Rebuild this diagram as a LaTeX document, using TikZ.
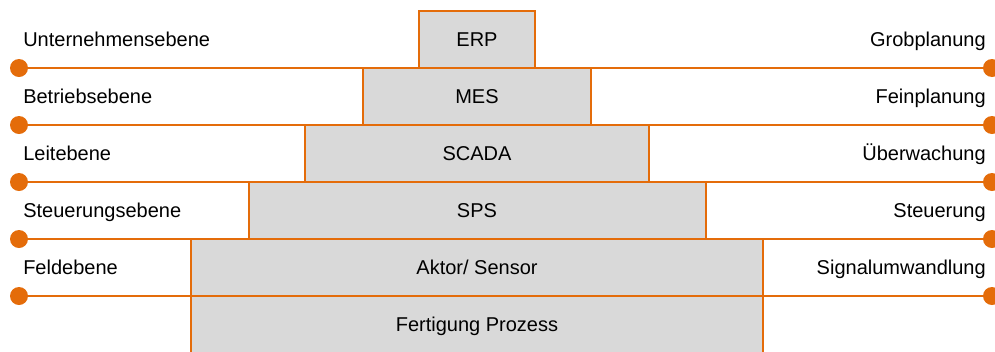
\documentclass[tikz,border=0pt]{standalone}
\usepackage{fontspec}
\setmainfont{Liberation Sans}
\usepackage{tikz}
\usetikzlibrary{positioning}

\definecolor{ebeneorange}{RGB}{228,108,10}
\definecolor{ebenegrau}{RGB}{217,217,217}

\tikzset{
  schrift/.style={font=\fontsize{15}{18}\selectfont, text height=10.7pt, text depth=0pt, inner sep=0pt},
  stufe/.style={schrift, draw=ebeneorange, line width=1.5pt, fill=ebenegrau, minimum height=42.75pt},
  punkt/.style={circle, fill=ebeneorange, inner sep=0pt, minimum size=13.5pt},
  linie/.style={draw=ebeneorange, line width=1.1pt},
}

\begin{document}
\begin{tikzpicture}[x=0.75pt,y=0.75pt,yscale=-1,xscale=1]
    \useasboundingbox (0,0) rectangle (995,351);
    % Dots left and right
    \node[punkt] (l1) at (19,68) {};
    \node[punkt] (r1) at (992,68) {};
    \node[punkt] (l2) at (19,125) {};
    \node[punkt] (r2) at (992,125) {};
    \node[punkt] (l3) at (19,182) {};
    \node[punkt] (r3) at (992,182) {};
    \node[punkt] (l4) at (19,239) {};
    \node[punkt] (r4) at (992,239) {};
    \node[punkt] (l5) at (19,296) {};
    \node[punkt] (r5) at (992,296) {};
    % Level lines
    \draw[linie] (l1) -- (r1);
    \draw[linie] (l2) -- (r2);
    \draw[linie] (l3) -- (r3);
    \draw[linie] (l4) -- (r4);
    \draw[linie] (l5) -- (r5);
    % Pyramid
    \node[stufe, minimum width=429pt] (prozess) at (477,324.5) {Fertigung Prozess};
    \node[stufe, minimum width=429pt] (feld) at (477,267.5) {Aktor/ Sensor};
    \node[stufe, minimum width=342.75pt] (sps) at (477,210.5) {SPS};
    \node[stufe, minimum width=258pt] (scada) at (477,153.5) {SCADA};
    \node[stufe, minimum width=171pt] (mes) at (477,96.5) {MES};
    \node[stufe, minimum width=87pt] (erp) at (477,39) {ERP};
    % Text Node left
    \node[schrift, anchor=west] (ebene1) at (23,39) {Unternehmensebene};
    \node[schrift, anchor=west] (ebene2) at (23,96.5) {Betriebsebene};
    \node[schrift, anchor=west] (ebene3) at (23,153.5) {Leitebene};
    \node[schrift, anchor=west] (ebene4) at (23,210.5) {Steuerungsebene};
    \node[schrift, anchor=west] (ebene5) at (23,267.5) {Feldebene};
    % Text Node right
    \node[schrift, anchor=east] (aufgabe1) at (986,39) {Grobplanung};
    \node[schrift, anchor=east] (aufgabe2) at (986,96.5) {Feinplanung};
    \node[schrift, anchor=east] (aufgabe3) at (986,153.5) {Überwachung};
    \node[schrift, anchor=east] (aufgabe4) at (986,210.5) {Steuerung};
    \node[schrift, anchor=east] (aufgabe5) at (986,267.5) {Signalumwandlung};
\end{tikzpicture}
\end{document}
